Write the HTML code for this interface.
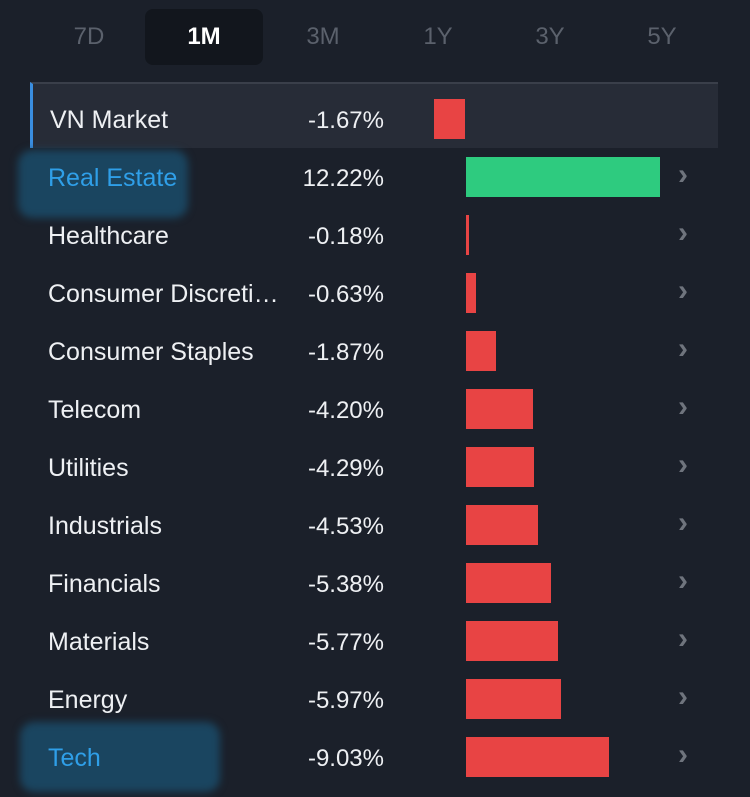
<!DOCTYPE html>
<html><head><meta charset="utf-8"><style>
body{margin:0;width:750px;height:797px;background:#1b202a;font-family:"Liberation Sans",sans-serif;overflow:hidden;position:relative}
.tab{position:absolute;top:9px;height:56px;width:118px;line-height:56px;text-align:center;font-size:24px;color:#5b616c}
.tab.active{background:#12161d;color:#fff;font-weight:bold;border-radius:8px}
.sel{position:absolute;left:30px;top:82px;width:688px;height:66px;background:#272c37;border-left:3px solid #3a8ee0;border-top:2px solid #3a3f4a;box-sizing:border-box}
.lab{position:absolute;left:48px;font-size:25px;color:#eef0f3;white-space:nowrap}
.val{position:absolute;right:366px;font-size:24px;color:#eef0f3}
.chev{position:absolute;left:678px;font-size:30px;font-weight:bold;color:#6f747d}
.blob{position:absolute;background:#1a4560;border-radius:14px;filter:blur(4px)}
</style></head><body>
<div class="tab" style="left:30px">7D</div>
<div class="tab active" style="left:145px">1M</div>
<div class="tab" style="left:264px">3M</div>
<div class="tab" style="left:379px">1Y</div>
<div class="tab" style="left:491px">3Y</div>
<div class="tab" style="left:603px">5Y</div>
<div class="sel"></div>
<div class="blob" style="left:18px;top:150px;width:170px;height:68px"></div>
<div class="blob" style="left:20px;top:722px;width:200px;height:70px"></div>
<div id="rows"></div>
<script>
const names=["VN Market","Real Estate","Healthcare","Consumer Discreti…","Consumer Staples","Telecom","Utilities","Industrials","Financials","Materials","Energy","Tech"];
const values=[-1.67,12.22,-0.18,-0.63,-1.87,-4.20,-4.29,-4.53,-5.38,-5.77,-5.97,-9.03];
const root=document.getElementById('rows');
const x0=466, pxPer=15.88;
function xs(v){return Math.abs(v)*pxPer;}
names.forEach((n,i)=>{
  const cy=120+i*58;
  const l=document.createElement('div');l.className='lab';
  
  
  l.style.top=(cy-14)+'px';l.textContent=n;
  if(i==1||i==11)l.style.color='#2f9fe8';
  if(i==0)l.style.left='50px';
  root.appendChild(l);
  const v=document.createElement('div');v.className='val';
  
  
  v.style.top=(cy-13)+'px';v.textContent=values[i].toFixed(2)+'%';
  root.appendChild(v);
  const b=document.createElement('div');
  
  
  let w=Math.max(xs(values[i]),3);
  if(i==0)w=w*1.17;
  b.style.cssText='position:absolute;height:40px;top:'+(cy-21)+'px;width:'+w+'px;background:'+(values[i]>=0?'#2ecb7f':'#e84444');
  b.style.left=(i==0?(x0-1-w):x0)+'px';
  root.appendChild(b);
  if(i>0){const c=document.createElement('div');c.className='chev';
  
  
  c.style.top=(cy-20)+'px';c.textContent='›';root.appendChild(c);}
});
</script>
</body></html>
